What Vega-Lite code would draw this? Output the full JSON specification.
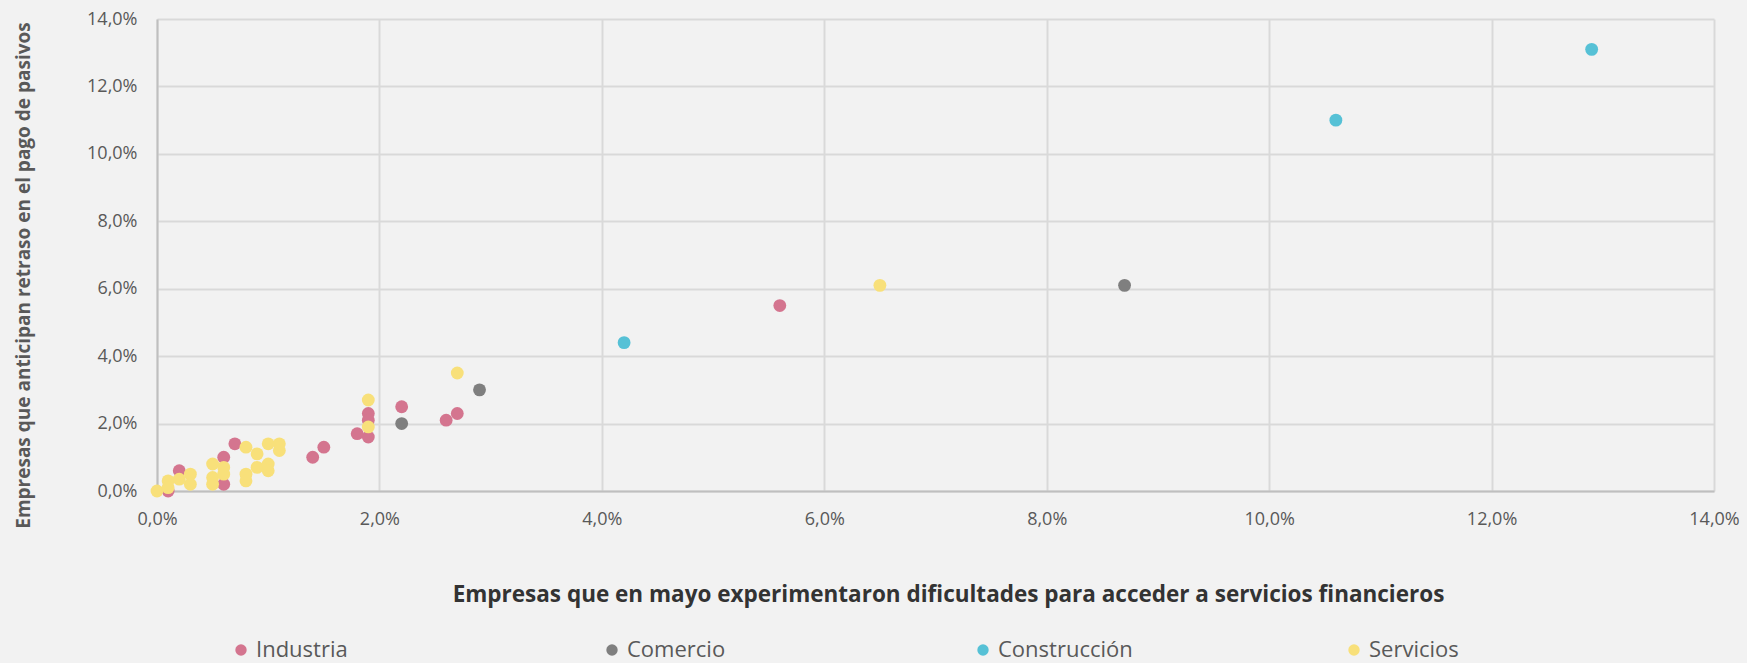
{
  "$schema": "https://vega.github.io/schema/vega-lite/v6.json",
  "width": 1557,
  "height": 472,
  "autosize": {"type": "none"},
  "padding": {"left": 157, "top": 19, "right": 33, "bottom": 172},
  "background": "#F2F2F2",
  "config": {
    "view": {"stroke": null},
    "font": "Open Sans"
  },
  "data": {
    "values": [
      {"sector": "Industria", "x": 5.6, "y": 5.5},
      {"sector": "Industria", "x": 2.7, "y": 2.3},
      {"sector": "Industria", "x": 2.6, "y": 2.1},
      {"sector": "Industria", "x": 2.2, "y": 2.5},
      {"sector": "Industria", "x": 1.9, "y": 2.3},
      {"sector": "Industria", "x": 1.9, "y": 2.1},
      {"sector": "Industria", "x": 1.9, "y": 1.6},
      {"sector": "Industria", "x": 1.8, "y": 1.7},
      {"sector": "Industria", "x": 1.5, "y": 1.3},
      {"sector": "Industria", "x": 1.4, "y": 1.0},
      {"sector": "Industria", "x": 0.7, "y": 1.4},
      {"sector": "Industria", "x": 0.6, "y": 1.0},
      {"sector": "Industria", "x": 0.6, "y": 0.2},
      {"sector": "Industria", "x": 0.2, "y": 0.6},
      {"sector": "Industria", "x": 0.1, "y": 0.0},
      {"sector": "Comercio", "x": 8.7, "y": 6.1},
      {"sector": "Comercio", "x": 2.9, "y": 3.0},
      {"sector": "Comercio", "x": 2.2, "y": 2.0},
      {"sector": "Construcción", "x": 12.9, "y": 13.1},
      {"sector": "Construcción", "x": 10.6, "y": 11.0},
      {"sector": "Construcción", "x": 4.2, "y": 4.4},
      {"sector": "Servicios", "x": 6.5, "y": 6.1},
      {"sector": "Servicios", "x": 2.7, "y": 3.5},
      {"sector": "Servicios", "x": 1.9, "y": 2.7},
      {"sector": "Servicios", "x": 1.9, "y": 1.9},
      {"sector": "Servicios", "x": 0.0, "y": 0.0},
      {"sector": "Servicios", "x": 0.1, "y": 0.3},
      {"sector": "Servicios", "x": 0.1, "y": 0.1},
      {"sector": "Servicios", "x": 0.2, "y": 0.35},
      {"sector": "Servicios", "x": 0.3, "y": 0.5},
      {"sector": "Servicios", "x": 0.3, "y": 0.2},
      {"sector": "Servicios", "x": 0.5, "y": 0.8},
      {"sector": "Servicios", "x": 0.5, "y": 0.4},
      {"sector": "Servicios", "x": 0.5, "y": 0.2},
      {"sector": "Servicios", "x": 0.6, "y": 0.7},
      {"sector": "Servicios", "x": 0.6, "y": 0.5},
      {"sector": "Servicios", "x": 0.8, "y": 1.3},
      {"sector": "Servicios", "x": 0.8, "y": 0.5},
      {"sector": "Servicios", "x": 0.8, "y": 0.3},
      {"sector": "Servicios", "x": 0.9, "y": 1.1},
      {"sector": "Servicios", "x": 0.9, "y": 0.7},
      {"sector": "Servicios", "x": 1.0, "y": 1.4},
      {"sector": "Servicios", "x": 1.0, "y": 0.8},
      {"sector": "Servicios", "x": 1.0, "y": 0.6},
      {"sector": "Servicios", "x": 1.1, "y": 1.4},
      {"sector": "Servicios", "x": 1.1, "y": 1.2}
    ]
  },
  "mark": {"type": "point", "filled": true, "opacity": 1, "size": 165},
  "encoding": {
    "x": {
      "field": "x",
      "type": "quantitative",
      "scale": {"domain": [0, 14], "nice": false, "zero": true},
      "axis": {
        "values": [0, 2, 4, 6, 8, 10, 12, 14],
        "labelExpr": "replace(format(datum.value, '.1f'), '.', ',') + '%'",
        "labelFlush": false,
        "title": "Empresas que en mayo experimentaron dificultades para acceder a servicios financieros",
        "titleFont": "Open Sans",
        "titleFontWeight": "bold",
        "titleFontSize": 22.5,
        "titleColor": "#333333",
        "titlePadding": 55,
        "titleX": 791,
        "titleAnchor": "middle",
        "labelFontSize": 18,
        "labelColor": "#595959",
        "labelPadding": 19,
        "ticks": false,
        "domainColor": "#BFBFBF",
        "domainWidth": 2,
        "gridColor": "#D9D9D9",
        "gridWidth": 2
      }
    },
    "y": {
      "field": "y",
      "type": "quantitative",
      "scale": {"domain": [0, 14], "nice": false, "zero": true},
      "axis": {
        "values": [0, 2, 4, 6, 8, 10, 12, 14],
        "labelExpr": "replace(format(datum.value, '.1f'), '.', ',') + '%'",
        "title": "Empresas que anticipan retraso en el pago de pasivos",
        "titleFont": "Open Sans",
        "titleFontWeight": "bold",
        "titleFontSize": 19,
        "titleColor": "#595959",
        "titleX": -124,
        "titleY": 256,
        "labelFontSize": 18,
        "labelColor": "#595959",
        "labelPadding": 20,
        "ticks": false,
        "domainColor": "#BFBFBF",
        "domainWidth": 2,
        "gridColor": "#D9D9D9",
        "gridWidth": 2
      }
    },
    "color": {
      "field": "sector",
      "type": "nominal",
      "scale": {
        "domain": ["Industria", "Comercio", "Construcción", "Servicios"],
        "range": ["#D4758F", "#7F7F7F", "#56C1D6", "#F8E07A"]
      },
      "legend": {
        "title": null,
        "orient": "none",
        "direction": "horizontal",
        "columns": 4,
        "gridAlign": "all",
        "columnPadding": 210,
        "legendX": 73,
        "legendY": 620,
        "symbolType": "circle",
        "symbolSize": 130,
        "symbolOpacity": 1,
        "labelFontSize": 22,
        "labelColor": "#595959",
        "labelOffset": 4
      }
    }
  }
}
